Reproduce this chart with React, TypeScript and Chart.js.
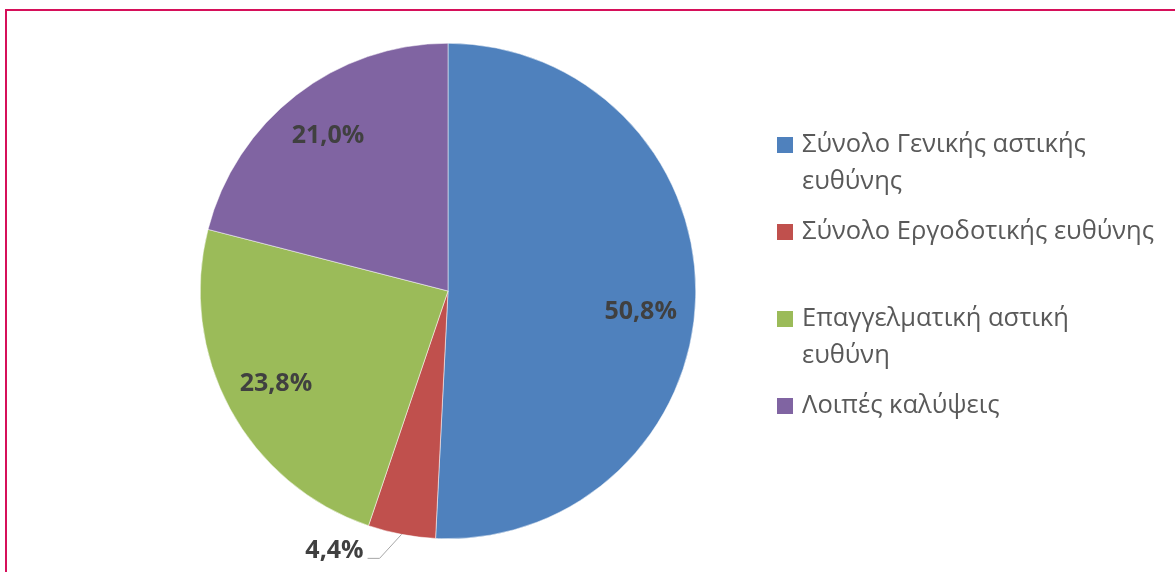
import React, { useEffect, useRef } from "react";
import { Chart, registerables } from "chart.js";

Chart.register(...registerables);

const legendLines: string[][] = [
  ["Σύνολο Γενικής αστικής", "ευθύνης"],
  ["Σύνολο Εργοδοτικής ευθύνης"],
  ["Επαγγελματική αστική", "ευθύνη"],
  ["Λοιπές καλύψεις"],
];
const categories: string[] = legendLines.map((l) => l.join(" "));
const values: number[] = [50.8, 4.4, 23.8, 21.0];
const valueLabels: string[] = ["50,8%", "4,4%", "23,8%", "21,0%"];
const colors: string[] = ["#4F81BD", "#C0504D", "#9BBB59", "#8064A2"];

const FONT = "'Open Sans', 'Noto Sans', 'Liberation Sans', sans-serif";

const framePlugin = {
  id: "frame",
  beforeDraw(chart: any) {
    const ctx = chart.ctx;
    ctx.save();
    ctx.strokeStyle = "#D6105A";
    ctx.lineWidth = 2;
    ctx.strokeRect(6, 10, chart.width + 20, chart.height + 20);
    ctx.restore();
  },
};

const labelPlugin = {
  id: "sliceLabels",
  afterDatasetsDraw(chart: any) {
    const ctx = chart.ctx;
    const meta = chart.getDatasetMeta(0);
    ctx.save();
    ctx.font = `bold 25px ${FONT}`;
    ctx.fillStyle = "#404040";
    meta.data.forEach((arc: any, i: number) => {
      const p = arc.getProps(["x", "y", "startAngle", "endAngle", "outerRadius"], true);
      const mid = (p.startAngle + p.endAngle) / 2;
      if (values[i] < 10) {
        const ex = p.x + Math.cos(mid) * p.outerRadius;
        const ey = p.y + Math.sin(mid) * p.outerRadius;
        const kx = ex - 22;
        const ky = ey + 24;
        const hx = kx - 12;
        ctx.strokeStyle = "#A6A6A6";
        ctx.lineWidth = 1;
        ctx.beginPath();
        ctx.moveTo(ex, ey);
        ctx.lineTo(kx, ky);
        ctx.lineTo(hx, ky);
        ctx.stroke();
        ctx.textAlign = "right";
        ctx.textBaseline = "middle";
        ctx.fillText(valueLabels[i], hx - 4, ky - 7);
      } else {
        const r = p.outerRadius * 0.79;
        const nudge = i === 0 ? 16 : 0;
        const tx = p.x + Math.cos(mid) * r - (i === 0 ? 3 : 0);
        const ty = p.y + Math.sin(mid) * r + nudge;
        ctx.textAlign = "center";
        ctx.textBaseline = "middle";
        ctx.fillText(valueLabels[i], tx, ty);
      }
    });
    ctx.restore();
  },
};

const legendPlugin = {
  id: "customLegend",
  afterDraw(chart: any) {
    const ctx = chart.ctx;
    const x0 = 777;
    const y0 = 145;
    const itemStep = 87;
    const lineH = 37;
    const box = 16;
    ctx.save();
    ctx.font = `25.5px ${FONT}`;
    ctx.textBaseline = "middle";
    ctx.textAlign = "left";
    legendLines.forEach((lines, i) => {
      const cy = y0 + i * itemStep;
      ctx.fillStyle = colors[i];
      ctx.fillRect(x0, cy - box / 2, box, box);
      ctx.fillStyle = "#595959";
      lines.forEach((t, j) => {
        ctx.fillText(t, x0 + 25, cy + j * lineH);
      });
    });
    ctx.restore();
  },
};

export default function App() {
  const ref = useRef<HTMLCanvasElement | null>(null);
  useEffect(() => {
    if (!ref.current) return;
    const chart = new Chart(ref.current, {
      type: "pie",
      data: {
        labels: categories,
        datasets: [
          {
            data: values,
            backgroundColor: colors,
            borderColor: "#FFFFFF",
            borderWidth: 0.5,
          },
        ],
      },
      options: {
        animation: false,
        responsive: true,
        maintainAspectRatio: false,
        layout: { padding: { top: 43, bottom: 33, left: 200, right: 479 } },
        plugins: {
          legend: { display: false },
          tooltip: { enabled: false },
        },
      },
      plugins: [framePlugin, labelPlugin, legendPlugin],
    });
    return () => chart.destroy();
  }, []);
  return (
    <div style={{ position: "fixed", left: 0, top: 0, width: 1175, height: 572, background: "#fff" }}>
      <canvas ref={ref} />
    </div>
  );
}
